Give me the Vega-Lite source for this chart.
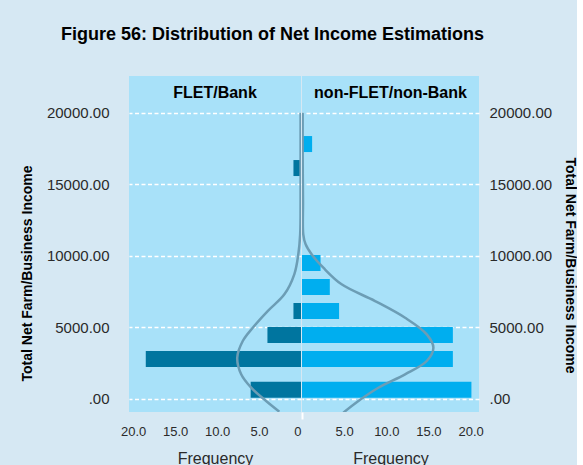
{
  "$schema": "https://vega.github.io/schema/vega-lite/v6.json",
  "background": "#d6e8f3",
  "padding": {"left": 20, "top": 26, "right": 0, "bottom": 0},
  "spacing": 0,
  "title": {"text": "Figure 56: Distribution of Net Income Estimations", "fontSize": 18, "fontWeight": "bold", "color": "#000000", "anchor": "middle", "offset": 32, "dx": -26},
  "datasets": {
    "bars": [
      {"panel": "FLET/Bank", "income": 619, "frequency": 6.0},
      {"panel": "FLET/Bank", "income": 2776, "frequency": 18.5},
      {"panel": "FLET/Bank", "income": 4455, "frequency": 4.0},
      {"panel": "FLET/Bank", "income": 6133, "frequency": 0.9},
      {"panel": "FLET/Bank", "income": 16133, "frequency": 0.9},
      {"panel": "non-FLET/non-Bank", "income": 619, "frequency": 20.1},
      {"panel": "non-FLET/non-Bank", "income": 2776, "frequency": 17.9},
      {"panel": "non-FLET/non-Bank", "income": 4455, "frequency": 17.9},
      {"panel": "non-FLET/non-Bank", "income": 6133, "frequency": 4.4},
      {"panel": "non-FLET/non-Bank", "income": 7811, "frequency": 3.3},
      {"panel": "non-FLET/non-Bank", "income": 9490, "frequency": 2.2},
      {"panel": "non-FLET/non-Bank", "income": 17811, "frequency": 1.2}
    ],
    "curves": [
      {"panel": "FLET/Bank", "income": 20000, "density": 0.05},
      {"panel": "FLET/Bank", "income": 17000, "density": 0.05},
      {"panel": "FLET/Bank", "income": 14000, "density": 0.05},
      {"panel": "FLET/Bank", "income": 11500, "density": 0.1},
      {"panel": "FLET/Bank", "income": 10100, "density": 0.32},
      {"panel": "FLET/Bank", "income": 8700, "density": 0.8},
      {"panel": "FLET/Bank", "income": 7300, "density": 1.98},
      {"panel": "FLET/Bank", "income": 6130, "density": 3.97},
      {"panel": "FLET/Bank", "income": 4965, "density": 5.75},
      {"panel": "FLET/Bank", "income": 4035, "density": 6.94},
      {"panel": "FLET/Bank", "income": 2867, "density": 7.6},
      {"panel": "FLET/Bank", "income": 1706, "density": 7.13},
      {"panel": "FLET/Bank", "income": 769, "density": 5.94},
      {"panel": "FLET/Bank", "income": -161, "density": 4.16},
      {"panel": "FLET/Bank", "income": -909, "density": 2.58},
      {"panel": "non-FLET/non-Bank", "income": 20000, "density": 0.08},
      {"panel": "non-FLET/non-Bank", "income": 17000, "density": 0.08},
      {"panel": "non-FLET/non-Bank", "income": 13800, "density": 0.12},
      {"panel": "non-FLET/non-Bank", "income": 11500, "density": 0.15},
      {"panel": "non-FLET/non-Bank", "income": 10800, "density": 0.43},
      {"panel": "non-FLET/non-Bank", "income": 10100, "density": 1.14},
      {"panel": "non-FLET/non-Bank", "income": 9160, "density": 2.53},
      {"panel": "non-FLET/non-Bank", "income": 8000, "density": 4.7},
      {"panel": "non-FLET/non-Bank", "income": 6830, "density": 8.67},
      {"panel": "non-FLET/non-Bank", "income": 5660, "density": 12.23},
      {"panel": "non-FLET/non-Bank", "income": 4500, "density": 14.8},
      {"panel": "non-FLET/non-Bank", "income": 3566, "density": 15.59},
      {"panel": "non-FLET/non-Bank", "income": 2636, "density": 14.8},
      {"panel": "non-FLET/non-Bank", "income": 1706, "density": 12.23},
      {"panel": "non-FLET/non-Bank", "income": 769, "density": 9.06},
      {"panel": "non-FLET/non-Bank", "income": -161, "density": 6.69},
      {"panel": "non-FLET/non-Bank", "income": -979, "density": 4.9}
    ]
  },
  "hconcat": [
    {
      "width": 172,
      "height": 336,
      "title": {"text": "FLET/Bank", "frame": "group", "anchor": "middle", "offset": -25, "fontSize": 16, "fontWeight": "bold", "color": "#000000"},
      "layer": [
        {
          "data": {"name": "bars"},
          "transform": [{"filter": "datum.panel === 'FLET/Bank'"}],
          "mark": {"type": "bar", "orient": "horizontal", "size": 16, "color": "#00759f"},
          "encoding": {
            "y": {"field": "income", "type": "quantitative",
              "scale": {"domain": [-930, 22570], "nice": false, "zero": false, "padding": 0},
              "axis": {"orient": "left", "values": [0, 5000, 10000, 15000, 20000],
                "labelExpr": "datum.value === 0 ? '.00' : format(datum.value, '.2f')",
                "grid": true, "gridColor": "#ffffff", "gridDash": [4, 2.5], "gridWidth": 1.5,
                "ticks": false, "domain": false, "labelFontSize": 15, "labelColor": "#2a2a2a", "labelPadding": 20,
                "title": "Total Net Farm/Business Income", "titleFontSize": 14, "titleFontWeight": "bold", "titleColor": "#000000",
                "titlePadding": 12, "titleY": 197}},
            "x": {"field": "frequency", "type": "quantitative",
              "scale": {"domain": [0, 20.5], "reverse": true, "nice": false},
              "axis": {"values": [0, 5, 10, 15, 20],
                "labelExpr": "datum.value === 0 ? '0' : format(datum.value, '.1f')",
                "ticks": false, "domain": false, "grid": false, "labelFontSize": 13, "labelColor": "#2a2a2a", "labelPadding": 13,
                "title": "Frequency", "titleFontSize": 16, "titleFontWeight": "normal", "titleColor": "#2a2a2a", "titlePadding": 12}}
          }
        },
        {
          "data": {"name": "curves"},
          "transform": [{"filter": "datum.panel === 'FLET/Bank'"}],
          "mark": {"type": "line", "interpolate": "catmull-rom", "color": "#6c9db5", "strokeWidth": 2.5, "clip": true},
          "encoding": {
            "y": {"field": "income", "type": "quantitative"},
            "x": {"field": "density", "type": "quantitative"},
            "order": {"field": "income", "type": "quantitative"}
          }
        }
      ]
    },
    {
      "width": 177,
      "height": 336,
      "title": {"text": "non-FLET/non-Bank", "frame": "group", "anchor": "middle", "offset": -25, "fontSize": 16, "fontWeight": "bold", "color": "#000000"},
      "layer": [
        {
          "data": {"name": "bars"},
          "transform": [{"filter": "datum.panel === 'non-FLET/non-Bank'"}],
          "mark": {"type": "bar", "orient": "horizontal", "size": 16, "color": "#00aeef"},
          "encoding": {
            "y": {"field": "income", "type": "quantitative",
              "scale": {"domain": [-930, 22570], "nice": false, "zero": false, "padding": 0},
              "axis": {"orient": "right", "values": [0, 5000, 10000, 15000, 20000],
                "labelExpr": "datum.value === 0 ? '.00' : format(datum.value, '.2f')",
                "grid": true, "gridColor": "#ffffff", "gridDash": [4, 2.5], "gridWidth": 1.5,
                "ticks": false, "domain": false, "labelFontSize": 15, "labelColor": "#2a2a2a", "labelPadding": 10,
                "title": "Total Net Farm/Business Income", "titleFontSize": 14, "titleFontWeight": "bold", "titleColor": "#000000",
                "titleAngle": 90, "titlePadding": 11, "titleY": 189}},
            "x": {"field": "frequency", "type": "quantitative",
              "scale": {"domain": [0, 21], "nice": false},
              "axis": {"values": [0, 5, 10, 15, 20],
                "labelExpr": "datum.value === 0 ? '' : format(datum.value, '.1f')",
                "ticks": true, "tickSize": 7, "tickWidth": 2,
                "tickColor": {"condition": {"test": "datum.value === 0", "value": "#ffffff"}, "value": "transparent"},
                "domain": false, "grid": false, "labelFontSize": 13, "labelColor": "#2a2a2a", "labelPadding": 6,
                "title": "Frequency", "titleFontSize": 16, "titleFontWeight": "normal", "titleColor": "#2a2a2a", "titlePadding": 12}}
          }
        },
        {
          "mark": {"type": "rule", "color": "#ffffff", "strokeWidth": 2},
          "encoding": {"x": {"datum": 0, "type": "quantitative"}}
        },
        {
          "data": {"name": "curves"},
          "transform": [{"filter": "datum.panel === 'non-FLET/non-Bank'"}],
          "mark": {"type": "line", "interpolate": "catmull-rom", "color": "#6c9db5", "strokeWidth": 2.5, "clip": true},
          "encoding": {
            "y": {"field": "income", "type": "quantitative"},
            "x": {"field": "density", "type": "quantitative"},
            "order": {"field": "income", "type": "quantitative"}
          }
        }
      ]
    }
  ],
  "config": {
    "font": "Liberation Sans",
    "view": {"fill": "#a8e1f9", "stroke": null}
  }
}
